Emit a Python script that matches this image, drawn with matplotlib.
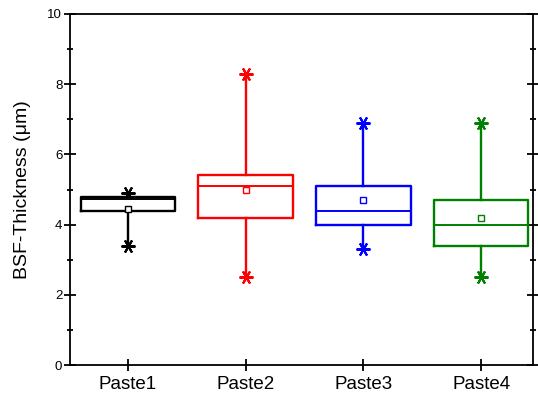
import matplotlib.pyplot as plt
from matplotlib.ticker import MultipleLocator

plt.rcParams['font.family'] = ['Liberation Sans', 'DejaVu Sans']

# Box statistics (BSF thickness, um)
labels = ['Paste1', 'Paste2', 'Paste3', 'Paste4']
mins = [3.4, 2.5, 3.3, 2.5]
q1s = [4.4, 4.2, 4.0, 3.4]
medians = [4.72, 5.1, 4.4, 4.0]
q3s = [4.8, 5.4, 5.1, 4.7]
maxs = [4.9, 8.3, 6.9, 6.9]
means = [4.45, 5.0, 4.7, 4.2]
colors = ['black', '#ff0000', '#0000ff', '#008000']

fig = plt.figure(figsize=(5.38, 3.99), dpi=100)
ax = fig.add_axes([0.130, 0.085, 0.861, 0.880])

star = (6, 2, 30)
for i, lab in enumerate(labels):
    stats = [{'label': lab, 'whislo': mins[i], 'q1': q1s[i], 'med': medians[i],
              'q3': q3s[i], 'whishi': maxs[i], 'mean': means[i], 'fliers': []}]
    c = colors[i]
    ax.bxp(stats, positions=[i + 1], widths=0.8, showmeans=True, showcaps=False,
           boxprops=dict(color=c, linewidth=1.7),
           medianprops=dict(color=c, linewidth=1.4),
           whiskerprops=dict(color=c, linewidth=1.7),
           meanprops=dict(marker='s', markerfacecolor='white', markeredgecolor=c,
                          markersize=5, markeredgewidth=1.0))
    ax.plot([i + 1, i + 1], [mins[i], maxs[i]], linestyle='none', marker=star,
            markersize=10, markeredgewidth=1.5, color=c)

ax.set_xlim(0.51, 4.44)
ax.set_ylim(0, 10)
ax.set_xticks(range(1, 5))
ax.set_xticklabels(labels, fontsize=13.5)
ax.yaxis.set_major_locator(MultipleLocator(2))
ax.yaxis.set_minor_locator(MultipleLocator(1))
ax.tick_params(axis='y', which='major', direction='inout', length=9, width=1.3,
               labelsize=9.5, right=True, pad=1)
ax.tick_params(axis='y', which='minor', direction='inout', length=5, width=1.3,
               right=True)
ax.tick_params(axis='x', direction='inout', length=9, width=1.3, pad=3)
ax.set_ylabel('BSF-Thickness (\u03bcm)', fontsize=14, labelpad=12)
for s in ax.spines.values():
    s.set_linewidth(1.3)

fig.savefig('out.png', dpi=100)
